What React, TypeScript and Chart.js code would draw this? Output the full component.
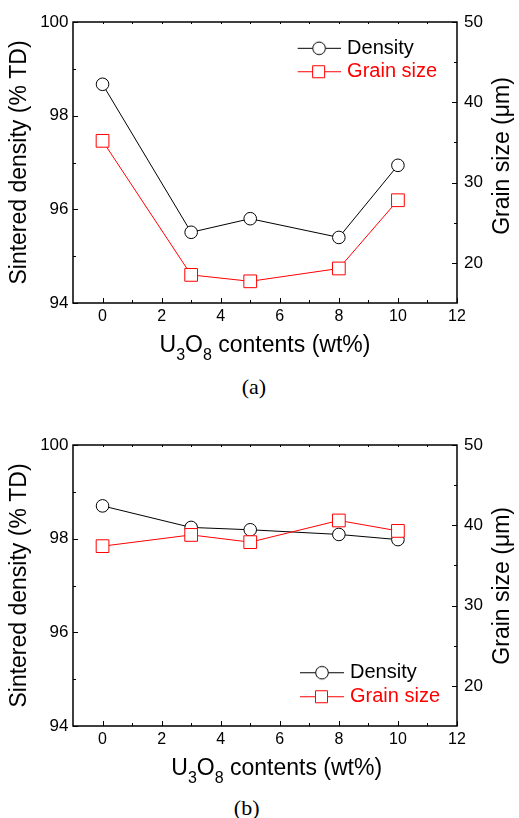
import React, { useEffect, useRef } from 'react';
import { Chart, registerables } from 'chart.js';

Chart.register(...registerables);

const FONT = '"Liberation Sans", Arial, sans-serif';

// ---- data ----
const U3O8_WT = [0, 3, 5, 8, 10];
const DENSITY_A = [98.67, 95.51, 95.8, 95.4, 96.94];
const GRAIN_A = [35.2, 18.5, 17.7, 19.3, 27.8];
const DENSITY_B = [98.7, 98.24, 98.19, 98.09, 97.98];
const GRAIN_B = [37.4, 38.8, 37.9, 40.6, 39.3];

// ---- axes ----
const X_RANGE = [-1, 12];
const Y_RANGE = [94, 100];
const Y2_RANGE = [15, 50];
const X_TICKS = [0, 2, 4, 6, 8, 10, 12];
const X_MINOR = [1, 3, 5, 7, 9, 11];
const X_TOP = [0, 1, 2, 3, 4, 5, 6, 7, 8, 9, 10, 11];
const Y_TICKS = [94, 96, 98, 100];
const Y_MINOR = [95, 97, 99];
const Y2_TICKS = [20, 30, 40, 50];
const Y2_MINOR = [25, 35, 45];

// ---- texts ----
const SERIES_LABELS = ['Density', 'Grain size'];
const Y_TITLE = 'Sintered density (% TD)';
const Y2_TITLE = 'Grain size (μm)';
const X_TITLE_PARTS = [
  { t: 'U', sub: false },
  { t: '3', sub: true },
  { t: 'O', sub: false },
  { t: '8', sub: true },
  { t: ' contents (wt%)', sub: false },
];
const CAPTIONS = ['(a)', '(b)'];

const W = 519;
const H = 370;

function makeMarker(kind: 'circle' | 'rect', color: string) {
  const c = document.createElement('canvas');
  c.width = 44;
  c.height = 17;
  const g = c.getContext('2d')!;
  g.strokeStyle = color;
  g.lineWidth = 1;
  g.beginPath();
  g.moveTo(0, 8.5);
  g.lineTo(44, 8.5);
  g.stroke();
  g.fillStyle = '#fff';
  g.beginPath();
  if (kind === 'circle') {
    g.arc(22, 8.5, 6.3, 0, Math.PI * 2);
  } else {
    g.rect(15.5, 2.5, 12, 12);
  }
  g.fill();
  g.stroke();
  return c;
}

const legendPlace = {
  id: 'legendPlace',
  afterLayout(chart: any, _a: any, opts: any) {
    const lg = chart.legend;
    if (!lg || !opts || opts.left == null) return;
    lg.left = opts.left;
    lg.top = opts.top;
    lg.right = opts.left + 220;
    lg.bottom = opts.top + 200;
    lg.width = 220;
    lg.height = 200;
  },
};

const framePlugin = {
  id: 'frame',
  afterDraw(chart: any, _a: any, opts: any) {
    const { ctx, chartArea: a, scales } = chart;
    const sx = scales.x, sy = scales.y, sy2 = scales.y2;
    ctx.save();
    ctx.strokeStyle = '#000';
    ctx.lineWidth = 1;
    const seg = (x1: number, y1: number, x2: number, y2: number) => {
      ctx.beginPath();
      ctx.moveTo(x1, y1);
      ctx.lineTo(x2, y2);
      ctx.stroke();
    };
    X_TICKS.forEach((v) => {
      const p = Math.round(sx.getPixelForValue(v)) + 0.5;
      seg(p, a.bottom, p, a.bottom - 5);
    });
    X_MINOR.forEach((v) => {
      const p = Math.round(sx.getPixelForValue(v)) + 0.5;
      seg(p, a.bottom, p, a.bottom - 3);
    });
    X_TOP.forEach((v) => {
      const p = Math.round(sx.getPixelForValue(v)) + 0.5;
      seg(p, a.top, p, a.top + 2);
    });
    Y_TICKS.forEach((v) => {
      const p = Math.round(sy.getPixelForValue(v)) + 0.5;
      seg(a.left, p, a.left + 5, p);
    });
    Y_MINOR.forEach((v) => {
      const p = Math.round(sy.getPixelForValue(v)) + 0.5;
      seg(a.left, p, a.left + 3, p);
    });
    Y2_TICKS.forEach((v) => {
      const p = Math.round(sy2.getPixelForValue(v)) + 0.5;
      seg(a.right, p, a.right - 5, p);
    });
    Y2_MINOR.forEach((v) => {
      const p = Math.round(sy2.getPixelForValue(v)) + 0.5;
      seg(a.right, p, a.right - 3, p);
    });
    ctx.lineWidth = 1.5;
    ctx.strokeRect(a.left, a.top, a.right - a.left, a.bottom - a.top);

    // right axis title (reads bottom to top)
    ctx.fillStyle = '#000';
    ctx.font = `23px ${FONT}`;
    ctx.textAlign = 'center';
    ctx.textBaseline = 'alphabetic';
    ctx.save();
    ctx.translate(opts.y2TitleX, opts.y2TitleCy);
    ctx.rotate(-Math.PI / 2);
    ctx.fillText(Y2_TITLE, 0, 0);
    ctx.restore();

    // x axis title with subscripts
    const big = `23px ${FONT}`;
    const small = `16px ${FONT}`;
    let total = 0;
    X_TITLE_PARTS.forEach((p) => {
      ctx.font = p.sub ? small : big;
      total += ctx.measureText(p.t).width;
    });
    let x = opts.xTitleCx - total / 2;
    ctx.textAlign = 'left';
    X_TITLE_PARTS.forEach((p) => {
      ctx.font = p.sub ? small : big;
      ctx.fillText(p.t, x, opts.xTitleBase + (p.sub ? 8 : 0));
      x += ctx.measureText(p.t).width;
    });
    ctx.restore();
  },
};

function makeConfig(density: number[], grain: number[], p: any, imgs: any[]) {
  return {
    type: 'line',
    data: {
      datasets: [
        {
          label: SERIES_LABELS[0],
          data: U3O8_WT.map((x, i) => ({ x, y: density[i] })),
          yAxisID: 'y',
          borderColor: '#000',
          borderWidth: 1,
          pointStyle: 'circle',
          pointRadius: 6.3,
          pointBackgroundColor: '#fff',
          pointBorderColor: '#000',
          pointBorderWidth: 1,
          tension: 0,
          order: 1,
        },
        {
          label: SERIES_LABELS[1],
          data: U3O8_WT.map((x, i) => ({ x, y: grain[i] })),
          yAxisID: 'y2',
          borderColor: '#ff0000',
          borderWidth: 1,
          pointStyle: 'rect',
          pointRadius: 9,
          pointBackgroundColor: '#fff',
          pointBorderColor: '#ff0000',
          pointBorderWidth: 1,
          tension: 0,
          order: 0,
        },
      ],
    },
    options: {
      responsive: false,
      animation: false,
      devicePixelRatio: 1,
      events: [],
      layout: { padding: { top: 22, left: 0, right: 0, bottom: 0 } },
      plugins: {
        tooltip: { enabled: false },
        legend: {
          position: 'chartArea',
          align: 'start',
          labels: {
            usePointStyle: true,
            pointStyleWidth: 36,
            padding: p.legendPad,
            font: { size: 20, family: FONT },
            generateLabels: () => [
              { text: SERIES_LABELS[0], fontColor: '#000', pointStyle: imgs[0], hidden: false, lineWidth: 0, datasetIndex: 0 },
              { text: SERIES_LABELS[1], fontColor: '#ff0000', pointStyle: imgs[1], hidden: false, lineWidth: 0, datasetIndex: 1 },
            ],
          },
        },
        legendPlace: { left: p.legendLeft, top: p.legendTop },
        frame: { xTitleCx: p.xTitleCx, xTitleBase: 352, y2TitleX: 508.5, y2TitleCy: p.y2TitleCy },
      },
      scales: {
        x: {
          type: 'linear',
          position: 'bottom',
          min: X_RANGE[0],
          max: X_RANGE[1],
          afterBuildTicks: (s: any) => {
            s.ticks = X_TICKS.map((v) => ({ value: v }));
          },
          afterFit: (s: any) => {
            s.height = H - 303;
          },
          grid: { display: false, drawTicks: false },
          border: { display: false },
          ticks: { font: { size: 16, family: FONT }, color: '#000', padding: 4, maxRotation: 0, autoSkip: false },
        },
        y: {
          type: 'linear',
          position: 'left',
          min: Y_RANGE[0],
          max: Y_RANGE[1],
          afterBuildTicks: (s: any) => {
            s.ticks = Y_TICKS.map((v) => ({ value: v }));
          },
          afterFit: (s: any) => {
            s.width = 73;
          },
          grid: { display: false, drawTicks: false },
          border: { display: false },
          ticks: { font: { size: 17, family: FONT }, color: '#000', padding: 4.5 },
          title: {
            display: true,
            text: Y_TITLE,
            color: '#000',
            font: { size: 23, family: FONT },
            padding: { top: 6, bottom: 0 },
          },
        },
        y2: {
          type: 'linear',
          position: 'right',
          min: Y2_RANGE[0],
          max: Y2_RANGE[1],
          afterBuildTicks: (s: any) => {
            s.ticks = Y2_TICKS.map((v) => ({ value: v }));
          },
          afterFit: (s: any) => {
            s.width = 62;
          },
          grid: { display: false, drawTicks: false },
          border: { display: false },
          ticks: { font: { size: 17, family: FONT }, color: '#000', padding: 7 },
        },
      },
    },
    plugins: [legendPlace, framePlugin],
  };
}

function DualChart(props: { top: number; density: number[]; grain: number[]; p: any }) {
  const ref = useRef<HTMLCanvasElement>(null);
  useEffect(() => {
    const imgs = [makeMarker('circle', '#000'), makeMarker('rect', '#ff0000')];
    const chart = new Chart(ref.current as HTMLCanvasElement, makeConfig(props.density, props.grain, props.p, imgs) as any);
    return () => chart.destroy();
  }, []);
  return (
    <canvas
      ref={ref}
      width={W}
      height={H}
      style={{ position: 'absolute', left: 0, top: props.top, width: W, height: H }}
    />
  );
}

export default function App() {
  const capStyle: React.CSSProperties = {
    position: 'absolute',
    fontFamily: '"Liberation Serif", "Times New Roman", serif',
    fontSize: 22,
    lineHeight: '22px',
    width: 60,
    textAlign: 'center',
    color: '#000',
  };
  return (
    <div style={{ position: 'absolute', left: 0, top: 0, width: W, height: 818, background: '#fff', overflow: 'hidden' }}>
      <DualChart
        top={0}
        density={DENSITY_A}
        grain={GRAIN_A}
        p={{ legendLeft: 297.7, legendTop: 34.9, legendPad: 3.4, xTitleCx: 265, y2TitleCy: 156 }}
      />
      <DualChart
        top={423}
        density={DENSITY_B}
        grain={GRAIN_B}
        p={{ legendLeft: 300, legendTop: 235.7, legendPad: 4, xTitleCx: 276.7, y2TitleCy: 162.8 }}
      />
      <div style={{ ...capStyle, left: 254 - 30, top: 376 }}>{CAPTIONS[0]}</div>
      <div style={{ ...capStyle, left: 246.7 - 30, top: 797 }}>{CAPTIONS[1]}</div>
    </div>
  );
}
